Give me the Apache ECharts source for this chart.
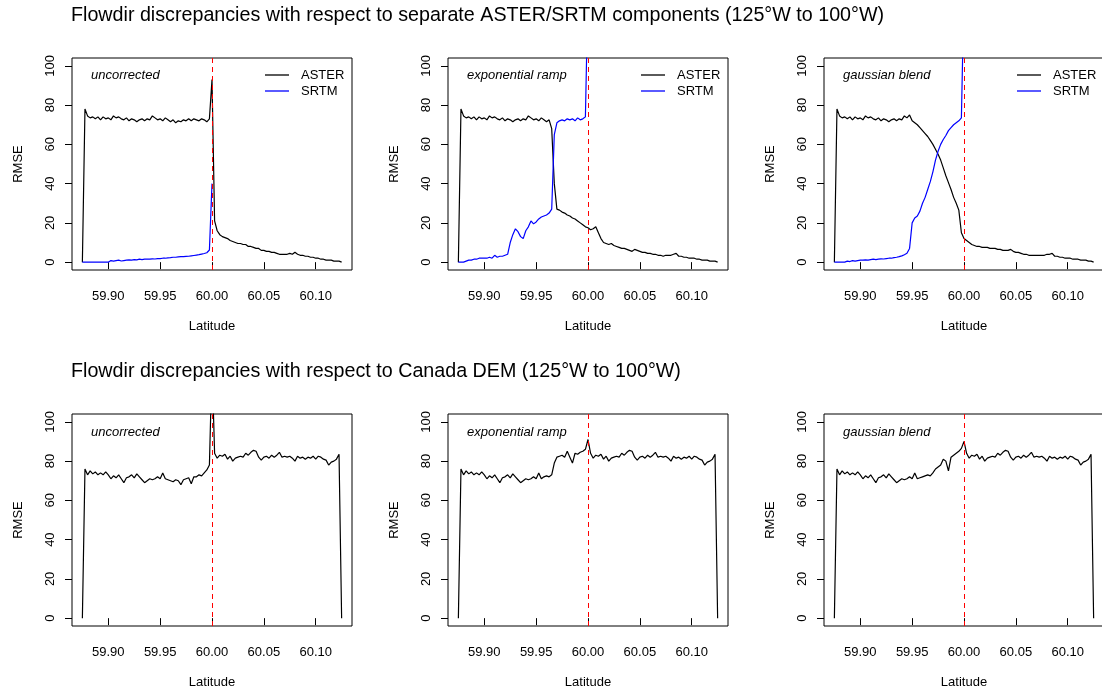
<!DOCTYPE html>
<html lang="en">
<head>
<meta charset="UTF-8">
<title>Flowdir discrepancies</title>
<script src="https://cdn.jsdelivr.net/npm/echarts@6/dist/echarts.min.js"></script>
</head>
<body style="margin:0;background:#fff">
<div id="Start" style="width:1102px;height:689px;"></div>
<script>
// latitude sample grid, 59.875 .. 60.125
var lat = [];
for (var i = 0; i <= 100; i++) lat.push(+(59.875 + i * 0.0025).toFixed(4));

var latTicks = [59.9, 59.95, 60, 60.05, 60.1];
var rmseTicks = [0, 20, 40, 60, 80, 100];
var topTitle = 'Flowdir discrepancies with respect to separate ASTER/SRTM components (125\u00B0W to 100\u00B0W)';
var bottomTitle = 'Flowdir discrepancies with respect to Canada DEM (125\u00B0W to 100\u00B0W)';
var panelLabels = ['uncorrected', 'exponential ramp', 'gaussian blend'];

// top row: RMSE vs separate components (SRTM stops at 60N)
var asterUncorrected = [0, 78, 74.5, 73.5, 74, 73, 74, 72.5, 74, 73, 73.5, 72.5, 74.5, 73.5, 74, 73, 72.5, 73.5, 72, 73,
  72.5, 71.5, 72.5, 73, 72, 73, 72.5, 74.5, 73.5, 72.5, 73, 72, 73.5, 72.5, 71.5, 72.5,
  71, 72, 71.5, 72.5, 72, 73, 72, 73, 72.5, 72, 73, 72.5, 71.5, 73, 93,
  21, 16, 14, 13, 12.5, 12, 11, 10.5, 10, 9.5, 9.5, 9, 9, 8, 8, 7.5, 7, 7, 6, 6, 5.5, 5.5, 5, 5, 4.5,
  4, 4, 4, 4, 4.5, 4, 5, 4, 3.5, 3.5, 3, 3, 2.5, 2.5, 2, 2, 1.5, 1.5, 1, 1, 1, 0.5, 0.5, 0.5, 0];
var srtmUncorrected = [0, 0, 0, 0, 0, 0, 0, 0, 0, 0, 0, 0.8, 0.5, 0.8, 1, 0.6, 0.8, 1, 1.2, 1,
  1.3, 1.2, 1.5, 1.3, 1.5, 1.6, 1.5, 1.7, 1.6, 1.8, 1.8, 2, 2, 2.2, 2.3, 2.5, 2.5, 2.7, 2.8, 2.8,
  2.9, 3, 3.2, 3.4, 3.6, 3.8, 4.1, 4.4, 4.8, 6.2, 40];
var asterExpRamp = [0, 78, 74.5, 73.5, 74, 73, 74, 72.5, 74, 73, 73.5, 72.5, 74.5, 73.5, 74, 73, 72.5, 73.5, 72, 73,
  72.5, 71.5, 72.5, 73, 72, 73, 72.5, 74.5, 73.5, 72.5, 73, 72, 73.5, 72.5, 71.5, 72.5,
  68, 40, 27, 26.5, 25.5, 25, 24, 23.5, 22.5, 22, 21, 20, 19, 18, 17.5,
  16.5, 17, 18, 15, 12, 10, 9.5, 9, 9.5, 8.5, 8, 7.5, 7, 7, 6.5, 6, 5.5, 6.5, 6, 5.5, 5, 5, 4.5, 4.5, 4,
  4, 3.5, 3.5, 3, 3.5, 3.5, 3.5, 4, 4.5, 3, 3, 2.5, 2.5, 2, 2, 2, 1.5, 1.5, 1, 1, 1, 0.5, 0.5, 0.5, 0];
var srtmExpRamp = [0, 0, 0, 0.5, 1, 1, 1.5, 1.5, 2, 2, 2, 2, 2.5, 2, 3.5, 2.5, 3, 3, 3.5, 4,
  10, 14, 17, 15.5, 13, 12, 16, 18, 21, 19.5, 20.5, 22, 23, 23.5, 24, 25, 27, 65, 71, 72,
  72.5, 72, 73, 72.5, 73, 72, 73.5, 72.5, 73, 74, 140];
var asterGaussian = [0, 78, 74.5, 73.5, 74, 73, 74, 72.5, 74, 73, 73.5, 72.5, 74.5, 73.5, 74, 73, 72.5, 73.5, 72, 73,
  72.5, 71.5, 72.5, 73, 72, 73, 72.5, 74.5, 73.5, 75, 72, 71, 70, 68.5, 67, 65.5,
  64, 62, 60, 57.5, 55, 52, 48, 44, 40.5, 37, 33, 30, 26.5, 15, 12,
  11, 10, 9, 8.5, 8, 8, 7.5, 7.5, 7.5, 7, 7, 7, 6.5, 6.5, 6, 6, 6, 6.5, 5.5, 5, 5, 4.5, 4, 4, 3.5,
  3.5, 3.5, 3.5, 3.5, 3.5, 3.5, 4, 4, 4.5, 3, 3, 2.5, 2.5, 2, 2, 2, 1.5, 1.5, 1.5, 1, 1, 1, 0.5, 0.5, 0];
var srtmGaussian = [0, 0, 0, 0, 0, 0.5, 0.3, 0.8, 0.5, 0.8, 1, 1, 1.2, 1, 1.3, 1.5, 1.3, 1.5, 1.7, 1.6,
  1.8, 2, 2, 2.3, 2.5, 2.8, 3.2, 3.8, 4.5, 7, 20, 22.5, 23.5, 26, 30, 33, 37, 41, 46, 52,
  56.5, 60, 62.5, 64.5, 67, 68.5, 70, 71, 72, 73.5, 140];

// bottom row: RMSE vs Canada DEM
var canadaUncorrected = [0, 76, 73, 75, 73.5, 74.5, 73, 74, 73, 74.5, 73, 71, 72.5, 71.5, 73, 71, 69, 71.5, 72, 73,
  71.5, 73.5, 72, 70.5, 69, 70, 71, 70.5, 71, 72, 71, 74, 71, 70.5, 70, 69.5,
  70.5, 70, 68, 70.5, 71, 71.5, 68.5, 72, 72, 73, 72.5, 74, 75.5, 78, 130,
  84, 81.5, 83, 82.5, 83.5, 81, 82.5, 80, 81.5, 82, 82.5, 82, 84, 83, 84.5, 85.5, 85, 82, 80.5, 82,
  82.5, 81.5, 83, 82, 83, 84.5, 82, 82.5, 82, 82.5, 81.5, 80, 82.5, 81.5, 82, 81, 82, 81.5, 82.5, 81,
  82.5, 82, 81, 80.5, 78, 79.5, 80, 81, 83.5, 0];
var canadaExpRamp = [0, 76, 73, 75, 73.5, 74.5, 73, 74, 73, 74.5, 73, 71, 72.5, 71.5, 73, 71, 69, 71.5, 72, 73,
  71.5, 73.5, 72, 70.5, 69, 70, 71, 70.5, 71, 72, 71, 74, 71, 72, 72.5, 72,
  73, 79, 82, 82.5, 83, 82, 85, 82, 79, 84, 83.5, 84.5, 85, 86, 91,
  84, 81.5, 83, 82.5, 83.5, 81, 82.5, 80, 81.5, 82, 82.5, 82, 84, 83, 84.5, 85.5, 85, 82, 80.5, 82,
  82.5, 81.5, 83, 82, 83, 84.5, 82, 82.5, 82, 82.5, 81.5, 80, 82.5, 81.5, 82, 81, 82, 81.5, 82.5, 81,
  82.5, 82, 81, 80.5, 78, 79.5, 80, 81, 83.5, 0];
var canadaGaussian = [0, 76, 73, 75, 73.5, 74.5, 73, 74, 73, 74.5, 73, 71, 72.5, 71.5, 73, 71, 69, 71.5, 72, 73,
  71.5, 73.5, 72, 70.5, 69, 70, 71, 70.5, 71, 72, 71, 74, 71, 71.5, 72, 72.5,
  73, 72.5, 74, 76, 77, 78, 81, 80, 75, 82, 83, 84, 85, 86.5, 90,
  84, 81.5, 83, 82.5, 83.5, 81, 82.5, 80, 81.5, 82, 82.5, 82, 84, 83, 84.5, 85.5, 85, 82, 80.5, 82,
  82.5, 81.5, 83, 82, 83, 84.5, 82, 82.5, 82, 82.5, 81.5, 80, 82.5, 81.5, 82, 81, 82, 81.5, 82.5, 81,
  82.5, 82, 81, 80.5, 78, 79.5, 80, 81, 83.5, 0];

var font = '"Liberation Sans", Arial, Helvetica, sans-serif';
var colLeft = [72, 448, 824];
var rowTop = [58, 414];
var labelDrop = [11, 12];
var boxW = 280, boxH = 212;

var panels = [
  { row: 0, col: 0, lines: [['ASTER', asterUncorrected, '#000'], ['SRTM', srtmUncorrected, '#0000ff']] },
  { row: 0, col: 1, lines: [['ASTER', asterExpRamp, '#000'], ['SRTM', srtmExpRamp, '#0000ff']] },
  { row: 0, col: 2, lines: [['ASTER', asterGaussian, '#000'], ['SRTM', srtmGaussian, '#0000ff']] },
  { row: 1, col: 0, lines: [['Canada DEM', canadaUncorrected, '#000']] },
  { row: 1, col: 1, lines: [['Canada DEM', canadaExpRamp, '#000']] },
  { row: 1, col: 2, lines: [['Canada DEM', canadaGaussian, '#000']] }
];

var grid = [], xAxis = [], yAxis = [], series = [], legend = [];
var title = [
  { text: topTitle, left: 71, top: 6, padding: 0, textStyle: { fontSize: 19.7, fontWeight: 'normal', color: '#000', fontFamily: font } },
  { text: bottomTitle, left: 71, top: 362, padding: 0, textStyle: { fontSize: 19.7, fontWeight: 'normal', color: '#000', fontFamily: font } }
];

panels.forEach(function (p, k) {
  var left = colLeft[p.col], top = rowTop[p.row];
  grid.push({
    left: left, top: top, width: boxW, height: boxH,
    show: true, borderColor: '#000', borderWidth: 1, backgroundColor: 'transparent',
    containLabel: false, outerBoundsMode: 'none'
  });
  xAxis.push({
    type: 'value', gridIndex: k, min: 59.865, max: 60.135,
    name: 'Latitude', nameLocation: 'middle', nameGap: 50,
    nameTextStyle: { fontSize: 13, color: '#000', fontFamily: font },
    axisLine: { show: false },
    axisTick: { show: true, customValues: latTicks, length: 7, lineStyle: { color: '#000' } },
    axisLabel: {
      customValues: latTicks, margin: 19.5, fontSize: 13, color: '#000', fontFamily: font,
      formatter: function (v) { return v.toFixed(2); }
    },
    splitLine: { show: false }
  });
  yAxis.push({
    type: 'value', gridIndex: k, min: -4, max: 104,
    name: 'RMSE', nameLocation: 'middle', nameGap: 47, nameRotate: 90,
    nameTextStyle: { fontSize: 13, color: '#000', fontFamily: font },
    axisLine: { show: false },
    axisTick: { show: true, customValues: rmseTicks, length: 7, lineStyle: { color: '#000' } },
    axisLabel: { customValues: rmseTicks, rotate: 90, margin: 15, fontSize: 13, color: '#000', fontFamily: font },
    splitLine: { show: false }
  });
  title.push({
    text: panelLabels[p.col], left: left + 19, top: top + labelDrop[p.row], padding: 0,
    textStyle: { fontSize: 13, fontStyle: 'italic', fontWeight: 'normal', color: '#000', fontFamily: font }
  });
  p.lines.forEach(function (ln, j) {
    var s = {
      type: 'line', name: ln[0], xAxisIndex: k, yAxisIndex: k,
      data: ln[1].map(function (v, i) { return [lat[i], v]; }),
      symbol: 'none', clip: true, color: ln[2],
      lineStyle: { color: ln[2], width: 1.2 }
    };
    if (j === p.lines.length - 1) {
      s.markLine = {
        silent: true, symbol: 'none', label: { show: false },
        lineStyle: { color: '#ff0000', type: [5, 4], width: 1 },
        data: [{ xAxis: 60 }]
      };
    }
    series.push(s);
  });
  if (p.row === 0) {
    legend.push({
      data: ['ASTER', 'SRTM'], orient: 'vertical', left: left + 193, top: 67,
      icon: 'rect', itemWidth: 24, itemHeight: 1.3, itemGap: 0, padding: 0, selectedMode: false,
      textStyle: { fontSize: 13, lineHeight: 16, color: '#000', fontFamily: font, padding: [0, 0, 0, 7] }
    });
  }
});

var chart = echarts.init(document.getElementById('Start'));
chart.setOption({
  animation: false,
  backgroundColor: '#fff',
  textStyle: { fontFamily: font },
  title: title,
  legend: legend,
  grid: grid,
  xAxis: xAxis,
  yAxis: yAxis,
  series: series
});
</script>
</body>
</html>
